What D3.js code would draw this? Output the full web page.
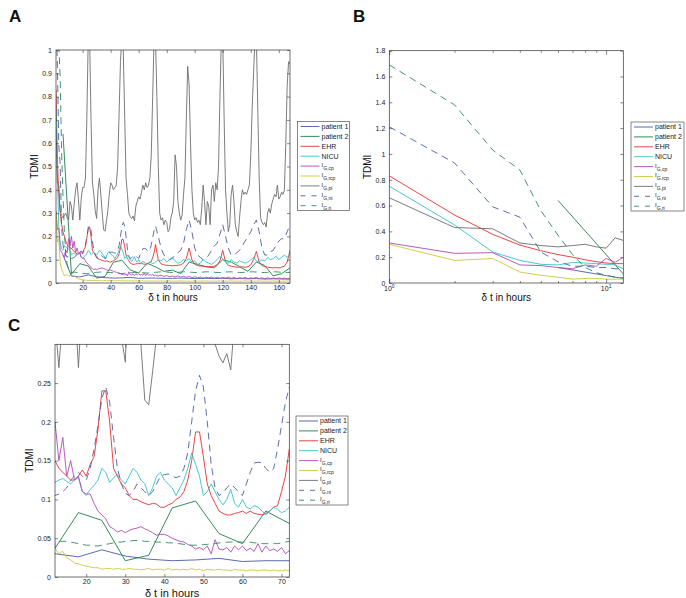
<!DOCTYPE html>
<html><head><meta charset="utf-8">
<script src="https://cdn.jsdelivr.net/npm/d3@7"></script>
<style>body{margin:0;background:#fff}svg text{font-family:"Liberation Sans",Arial,Helvetica,sans-serif}</style>
</head><body><svg id="c" width="686" height="598"></svg>
<script>
// ---------- DATA ----------
const seriesNames = ["patient 1","patient 2","EHR","NICU","I_G,cp","I_G,rcp","I_G,pi","I_G,ni","I_G,ri"];
const seriesColors = ["#4a5ba6","#1e7f45","#e8312f","#33c3c8","#b04ab8","#c9c93a","#6e6e6e","#4a5fa8","#2f8a5a"];
const seriesDashed = [false,false,false,false,false,false,false,true,true];

// time grids (hours)
const hoursFine = d3.range(1, 73);            // 1..72 hourly
const hoursCoarse = d3.range(74, 169, 2);     // 74..168 every 2 h
const hoursMixed = hoursFine.concat(hoursCoarse);
const hoursAll = d3.range(1, 169);            // 1..168 hourly
const hoursPatient = d3.range(6, 169, 6);     // 6..168 every 6 h

const ehr = [0.83,0.53,0.38,0.30,0.25,0.22,0.20,0.18,0.165,0.155,0.15,0.15,
0.14,0.135,0.13,0.125,0.125,0.13,0.138,0.13,0.145,0.155,0.19,0.24,
0.24,0.2,0.14,0.13,0.12,0.115,0.105,0.1,0.1,0.097,0.095,0.093,
0.095,0.094,0.09,0.09,0.093,0.095,0.1,0.103,0.11,0.125,0.15,0.187,
0.187,0.155,0.12,0.105,0.095,0.085,0.082,0.08,0.08,0.082,0.083,0.085,
0.082,0.085,0.082,0.081,0.08,0.082,0.085,0.09,0.092,0.11,0.13,0.165,
0.1,0.082,0.078,0.076,0.075,0.074,0.075,0.076,0.078,0.085,0.105,0.15,
0.1,0.08,0.075,0.073,0.072,0.07,0.07,0.071,0.072,0.078,0.095,0.14,
0.09,0.076,0.072,0.07,0.068,0.068,0.069,0.068,0.07,0.078,0.1,0.135,
0.09,0.075,0.07,0.068,0.066,0.065,0.066,0.065,0.068,0.072,0.09,0.14];

const nicu = [0.75,0.46,0.24,0.175,0.145,0.14,0.16,0.155,0.15,0.145,0.14,0.122,
0.125,0.127,0.123,0.12,0.125,0.128,0.11,0.105,0.113,0.118,0.125,0.14,
0.135,0.122,0.128,0.132,0.125,0.12,0.13,0.14,0.135,0.125,0.12,0.105,
0.115,0.13,0.135,0.125,0.12,0.115,0.105,0.115,0.125,0.14,0.16,0.145,
0.13,0.105,0.11,0.12,0.11,0.1,0.093,0.1,0.113,0.095,0.09,0.1,
0.09,0.088,0.092,0.09,0.085,0.08,0.085,0.09,0.087,0.083,0.085,0.09,
0.1,0.095,0.105,0.09,0.1,0.11,0.095,0.085,0.09,0.1,0.095,0.105,
0.09,0.095,0.08,0.085,0.1,0.09,0.085,0.08,0.09,0.1,0.115,0.105,
0.09,0.085,0.1,0.09,0.085,0.095,0.09,0.085,0.09,0.1,0.11,0.095,
0.09,0.1,0.095,0.11,0.1,0.105,0.115,0.1,0.11,0.12,0.11,0.125];

const igCp = [0.31,0.23,0.235,0.14,0.135,0.12,0.11,0.14,0.13,0.19,0.16,0.2,
0.15,0.18,0.13,0.15,0.125,0.13,0.11,0.107,0.107,0.095,0.085,0.08,
0.075,0.065,0.062,0.058,0.06,0.057,0.06,0.062,0.063,0.065,0.062,0.06,
0.057,0.054,0.055,0.055,0.053,0.05,0.048,0.046,0.045,0.042,0.04,0.036,
0.038,0.035,0.04,0.03,0.048,0.036,0.035,0.038,0.032,0.04,0.035,0.04,
0.034,0.037,0.033,0.043,0.032,0.04,0.034,0.036,0.033,0.038,0.03,0.034,
0.03,0.034,0.028,0.032,0.027,0.03,0.026,0.031,0.025,0.029,0.024,0.028,
0.023,0.027,0.022,0.026,0.021,0.025,0.022,0.026,0.021,0.025,0.02,0.024,
0.021,0.025,0.02,0.024,0.019,0.023,0.02,0.024,0.019,0.022,0.02,0.024,
0.019,0.022,0.018,0.022,0.019,0.021,0.018,0.022,0.019,0.021,0.018,0.02];

const igRcp = [0.3,0.175,0.19,0.085,0.06,0.045,0.03,0.035,0.035,0.03,0.03,0.037,
0.03,0.033,0.025,0.022,0.018,0.017,0.015,0.014,0.013,0.012,0.012,0.01,
0.011,0.011,0.01,0.011,0.01,0.01,0.011,0.01,0.01,0.009,0.01,0.011,
0.009,0.01,0.01,0.009,0.011,0.009,0.01,0.009,0.01,0.009,0.011,0.009,
0.01,0.008,0.01,0.009,0.009,0.01,0.009,0.009,0.008,0.01,0.009,0.009,
0.008,0.009,0.009,0.008,0.009,0.009,0.008,0.009,0.008,0.008,0.009,0.008,
0.008,0.009,0.008,0.008,0.009,0.008,0.008,0.008,0.009,0.008,0.008,0.008,
0.008,0.009,0.008,0.008,0.008,0.009,0.008,0.008,0.008,0.008,0.009,0.008,
0.008,0.008,0.009,0.008,0.008,0.008,0.008,0.009,0.008,0.008,0.008,0.008,
0.009,0.008,0.008,0.008,0.008,0.009,0.008,0.008,0.008,0.008,0.009,0.008];

const igPi = [0.66,0.43,0.42,0.31,0.29,0.28,0.29,0.30,0.28,0.27,0.35,0.33,
0.27,0.34,0.4,0.43,0.36,0.27,0.36,0.41,0.41,0.45,0.7,1.05,
1.05,0.7,0.43,0.38,0.31,0.277,0.4,0.45,0.38,0.3,0.228,0.222,
0.265,0.31,0.38,0.43,0.42,0.4,0.41,0.42,0.5,0.72,0.95,1.05,
1.0,0.72,0.45,0.38,0.3,0.285,0.276,0.288,0.267,0.33,0.35,0.37,
0.36,0.39,0.42,0.4,0.43,0.41,0.42,0.45,0.55,0.8,1.05,1.05,
0.8,0.5,0.3,0.27,0.28,0.25,0.27,0.26,0.22,0.23,0.28,0.3,
0.35,0.55,0.5,0.35,0.3,0.27,0.29,0.38,0.45,0.7,0.93,0.85,
0.6,0.4,0.3,0.27,0.28,0.26,0.27,0.25,0.32,0.42,0.35,0.25,
0.35,0.33,0.25,0.4,0.42,0.35,0.43,0.4,0.5,0.8,1.05,1.05,
0.7,0.4,0.3,0.22,0.25,0.38,0.42,0.35,0.25,0.22,0.2,0.28,
0.35,0.4,0.38,0.39,0.38,0.4,0.42,0.55,0.75,0.9,1.05,1.05,
0.75,0.45,0.28,0.26,0.25,0.26,0.24,0.3,0.32,0.3,0.34,0.36,
0.38,0.37,0.42,0.36,0.37,0.39,0.38,0.4,0.6,0.85,0.95,0.94];

const igNi = [1.21,0.93,0.59,0.51,0.24,0.165,0.13,0.12,0.11,0.12,0.11,0.105,
0.107,0.11,0.115,0.125,0.13,0.135,0.13,0.125,0.14,0.165,0.195,0.23,
0.245,0.225,0.18,0.14,0.12,0.108,0.105,0.11,0.12,0.115,0.11,0.105,
0.11,0.12,0.13,0.132,0.133,0.13,0.128,0.13,0.14,0.16,0.2,0.24,
0.26,0.245,0.2,0.145,0.115,0.105,0.108,0.115,0.12,0.115,0.11,0.105,
0.12,0.135,0.147,0.148,0.147,0.14,0.135,0.14,0.165,0.195,0.225,0.245,
0.2,0.15,0.12,0.11,0.1,0.105,0.12,0.13,0.14,0.17,0.23,0.27,
0.22,0.15,0.12,0.11,0.1,0.105,0.12,0.14,0.16,0.17,0.21,0.25,
0.2,0.15,0.12,0.12,0.13,0.14,0.16,0.18,0.2,0.22,0.25,0.27,
0.22,0.15,0.12,0.12,0.135,0.14,0.16,0.18,0.19,0.19,0.22,0.25];

const igRi = [1.69,1.38,1.03,0.876,0.56,0.37,0.22,0.12,0.08,0.06,0.048,0.046,
0.046,0.046,0.046,0.045,0.044,0.043,0.042,0.041,0.041,0.04,0.04,0.041,
0.042,0.043,0.044,0.045,0.045,0.046,0.046,0.047,0.047,0.047,0.046,0.046,
0.046,0.045,0.045,0.045,0.044,0.044,0.043,0.043,0.042,0.042,0.041,0.041,
0.041,0.042,0.042,0.043,0.043,0.044,0.044,0.045,0.045,0.045,0.045,0.045,
0.045,0.045,0.044,0.044,0.043,0.043,0.043,0.043,0.043,0.044,0.045,0.046,
0.047,0.048,0.048,0.047,0.046,0.045,0.045,0.046,0.047,0.048,0.048,0.047,
0.046,0.045,0.045,0.046,0.047,0.048,0.048,0.047,0.046,0.045,0.045,0.046,
0.047,0.048,0.048,0.047,0.046,0.045,0.045,0.046,0.047,0.048,0.048,0.047,
0.046,0.045,0.045,0.046,0.047,0.048,0.048,0.047,0.046,0.045,0.045,0.046];

const patient1 = [0.12,0.03,0.026,0.035,0.027,0.023,0.021,0.022,0.024,0.02,0.021,0.021,
0.02,0.02,0.021,0.02,0.019,0.02,0.019,0.02,0.018,0.019,0.018,0.019,0.017,0.018,0.017,0.017];
const patient2 = [0.64,0.037,0.083,0.073,0.021,0.028,0.089,0.098,0.056,0.043,0.085,0.069,
0.05,0.055,0.04,0.09,0.08,0.07,0.065,0.1,0.09,0.07,0.05,0.09,0.075,0.03,0.04,0.065];

// Panel B (log x, first 12 hours)
const hoursB = [1,2,3,4,5,6,7,8,9,10,11,12];
const hoursBPatient = [6,12];
const bPatient1 = [0.12,0.035];
const bPatient2 = [0.64,0.07];
const bEhr = [0.83,0.527,0.377,0.294,0.25,0.22,0.20,0.18,0.165,0.155,0.15,0.15];
const bNicu = [0.75,0.45,0.24,0.175,0.145,0.14,0.16,0.155,0.15,0.145,0.14,0.11];
const bCp = [0.31,0.23,0.235,0.14,0.135,0.12,0.11,0.14,0.13,0.19,0.16,0.20];
const bRcp = [0.30,0.175,0.19,0.085,0.06,0.045,0.03,0.035,0.035,0.03,0.03,0.03];
const bPi = [0.66,0.43,0.42,0.31,0.29,0.28,0.29,0.30,0.28,0.27,0.35,0.33];
const bNi = [1.21,0.93,0.59,0.51,0.24,0.165,0.13,0.13,0.12,0.12,0.11,0.11];
const bRi = [1.69,1.38,1.03,0.876,0.56,0.37,0.22,0.12,0.08,0.06,0.045,0.04];

// ticks
const ticksAy = [0,0.1,0.2,0.3,0.4,0.5,0.6,0.7,0.8,0.9,1];
const ticksAx = [20,40,60,80,100,120,140,160];
const ticksBy = [0,0.2,0.4,0.6,0.8,1,1.2,1.4,1.6,1.8];
const ticksBxMajor = [1,10];
const ticksBxMinor = [2,3,4,5,6,7,8,9];
const ticksCy = [0,0.05,0.1,0.15,0.2,0.25];
const ticksCx = [20,30,40,50,60,70];

// ---------- DRAW ----------
const svg = d3.select("#c");
const fmt = d => String(+d.toFixed(3));

const seriesAC = [
  {t: hoursPatient, v: patient1},
  {t: hoursPatient, v: patient2},
  {t: hoursMixed, v: ehr},
  {t: hoursMixed, v: nicu},
  {t: hoursMixed, v: igCp},
  {t: hoursMixed, v: igRcp},
  {t: hoursAll, v: igPi},
  {t: hoursMixed, v: igNi},
  {t: hoursMixed, v: igRi}
];
const seriesB = [
  {t: hoursBPatient, v: bPatient1},
  {t: hoursBPatient, v: bPatient2},
  {t: hoursB, v: bEhr},
  {t: hoursB, v: bNicu},
  {t: hoursB, v: bCp},
  {t: hoursB, v: bRcp},
  {t: hoursB, v: bPi},
  {t: hoursB, v: bNi},
  {t: hoursB, v: bRi}
];

function panel(cfg) {
  const g = svg.append("g").attr("transform", `translate(${cfg.x},${cfg.y})`);
  const x = (cfg.log ? d3.scaleLog() : d3.scaleLinear()).domain(cfg.xDomain).range([0, cfg.w]);
  const y = d3.scaleLinear().domain(cfg.yDomain).range([cfg.h, 0]);
  const cid = "clip" + cfg.id;
  g.append("clipPath").attr("id", cid).append("rect").attr("width", cfg.w).attr("height", cfg.h);
  const plot = g.append("g").attr("clip-path", `url(#${cid})`);
  const line = d3.line().x(d => x(d[0])).y(d => y(d[1]));
  cfg.series.forEach((s, i) => {
    const pts = s.t.map((t, k) => [t, s.v[k]]);
    plot.append("path").attr("d", line(pts)).attr("fill", "none")
      .attr("stroke", seriesColors[i]).attr("stroke-width", 0.9)
      .attr("stroke-dasharray", seriesDashed[i] ? "7,5" : null);
  });
  // axes (ticks inward, mirrored)
  const axL = g.append("g").call(d3.axisLeft(y).tickValues(cfg.yTicks).tickSizeInner(-3).tickSizeOuter(0).tickPadding(4).tickFormat(fmt));
  const axR = g.append("g").attr("transform", `translate(${cfg.w},0)`).call(d3.axisRight(y).tickValues(cfg.yTicks).tickSizeInner(-3).tickSizeOuter(0).tickFormat(""));
  let axB, axT;
  if (cfg.log) {
    axB = g.append("g").attr("transform", `translate(0,${cfg.h})`).call(d3.axisBottom(x).tickValues(ticksBxMajor).tickSizeInner(-4).tickSizeOuter(0).tickFormat(""));
    axT = g.append("g").call(d3.axisTop(x).tickValues(ticksBxMajor).tickSizeInner(-4).tickSizeOuter(0).tickFormat(""));
    g.append("g").attr("transform", `translate(0,${cfg.h})`).call(d3.axisBottom(x).tickValues(ticksBxMinor).tickSizeInner(-2).tickSizeOuter(0).tickFormat("")).select(".domain").remove();
    g.append("g").call(d3.axisTop(x).tickValues(ticksBxMinor).tickSizeInner(-2).tickSizeOuter(0).tickFormat("")).select(".domain").remove();
    ticksBxMajor.forEach((v, k) => {
      const t = g.append("text").attr("x", x(v)).attr("y", cfg.h + 8).attr("text-anchor", "middle")
        .attr("font-size", 7).attr("fill", "#222");
      t.append("tspan").text("10");
      t.append("tspan").attr("font-size", 5).attr("dy", -3).text(String(k));
    });
  } else {
    axB = g.append("g").attr("transform", `translate(0,${cfg.h})`).call(d3.axisBottom(x).tickValues(cfg.xTicks).tickSizeInner(-3).tickSizeOuter(0).tickPadding(2).tickFormat(fmt));
    axT = g.append("g").call(d3.axisTop(x).tickValues(cfg.xTicks).tickSizeInner(-3).tickSizeOuter(0).tickFormat(""));
  }
  [axL, axR, axB, axT].forEach(a => {
    a.select(".domain").remove();
    a.selectAll("line").attr("stroke", "#333").attr("stroke-width", 0.6);
    a.selectAll("text").attr("font-size", 7).attr("fill", "#222").attr("font-family", "Liberation Sans, Arial, sans-serif");
  });
  g.selectAll(".tick line").attr("stroke", "#333").attr("stroke-width", 0.6);
  g.append("rect").attr("width", cfg.w).attr("height", cfg.h).attr("fill", "none").attr("stroke", "#333").attr("stroke-width", 0.7);
  // labels
  g.append("text").attr("transform", `translate(${cfg.ylabX},${cfg.h / 2}) rotate(-90)`).attr("text-anchor", "middle")
    .attr("font-size", 10).attr("fill", "#111").text("TDMI");
  const xl = g.append("text").attr("x", cfg.w / 2).attr("y", cfg.h + cfg.xlabDy).attr("text-anchor", "middle")
    .attr("font-size", cfg.xlabSize).attr("fill", "#111");
  xl.text("\u03b4 t in hours");
  svg.append("text").attr("x", cfg.letterX).attr("y", cfg.letterY).attr("font-size", 17).attr("font-weight", "bold")
    .attr("fill", "#111").text(cfg.letter);
  // legend
  const lg = svg.append("g").attr("transform", `translate(${cfg.lx},${cfg.ly})`);
  lg.append("rect").attr("width", cfg.lw).attr("height", 89).attr("fill", "#fff").attr("stroke", "#555").attr("stroke-width", 0.7);
  seriesNames.forEach((name, i) => {
    const yy = 5 + i * 9.9;
    lg.append("line").attr("x1", 3).attr("x2", 22).attr("y1", yy).attr("y2", yy)
      .attr("stroke", seriesColors[i]).attr("stroke-width", 0.9)
      .attr("stroke-dasharray", seriesDashed[i] ? "5,6" : null);
    const t = lg.append("text").attr("x", 24).attr("y", yy + 2.4).attr("font-size", 7).attr("fill", "#222");
    if (name.startsWith("I_")) {
      t.append("tspan").attr("font-size", 6).attr("dy", -1.5).text("I");
      t.append("tspan").attr("font-size", 5).attr("dy", 3).text(name.slice(2));
    } else {
      t.text(name);
    }
  });
}

panel({id: "A", x: 56, y: 50, w: 234, h: 233, log: false, xDomain: [1, 168], yDomain: [0, 1],
  xTicks: ticksAx, yTicks: ticksAy, series: seriesAC, ylabX: -18, xlabDy: 18, xlabSize: 10,
  letter: "A", letterX: 9, letterY: 22, lx: 297.5, ly: 121.5, lw: 52});
panel({id: "B", x: 389.3, y: 50.7, w: 234, h: 232.3, log: true, xDomain: [1, 12], yDomain: [0, 1.8],
  yTicks: ticksBy, series: seriesB, ylabX: -18, xlabDy: 18, xlabSize: 10,
  letter: "B", letterX: 353, letterY: 22, lx: 631, ly: 122, lw: 53});
panel({id: "C", x: 55, y: 344.3, w: 234.3, h: 232.7, log: false, xDomain: [12, 72], yDomain: [0, 0.3],
  xTicks: ticksCx, yTicks: ticksCy, series: seriesAC, ylabX: -22, xlabDy: 20, xlabSize: 11,
  letter: "C", letterX: 8, letterY: 331, lx: 296, ly: 416, lw: 52});
</script></body></html>
